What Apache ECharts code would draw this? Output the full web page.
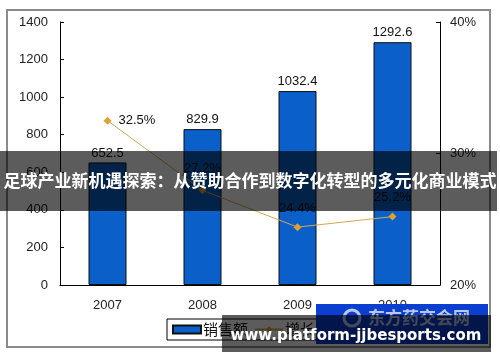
<!DOCTYPE html>
<html>
<head>
<meta charset="utf-8">
<script src="https://cdn.jsdelivr.net/npm/echarts@6/dist/echarts.min.js"></script>
<style>
html,body{margin:0;padding:0;background:#fff;}
#chart{width:500px;height:362px;}
</style>
</head>
<body>
<div id="chart"></div>
<script>
var categories = ['2007', '2008', '2009', '2010'];
var salesValues = [652.5, 829.9, 1032.4, 1292.6];
var growthValues = [32.5, 27.2, 24.4, 25.2];
var seriesNames = ['销售额', '增长率'];
var leftTicks = { min: 0, max: 1400, interval: 200 };
var rightTicks = { min: 20, max: 40, interval: 10 };
var titleText = '足球产业新机遇探索：从赞助合作到数字化转型的多元化商业模式';
var siteText = 'www.platform-jjbesports.com';
var logoText = '东方药交会网';

var growthLabelPos = ['right', 'top', 'top', 'top'];
var growthLabelDist = [7, 11, 8, 9];

var chart = echarts.init(document.getElementById('chart'));
var font = '"Liberation Sans", Arial, sans-serif';
var cjk = '"Noto Sans CJK SC", sans-serif';

var option = {
  animation: false,
  backgroundColor: '#ffffff',
  grid: { left: 60, right: 60, top: 22, bottom: 77 },
  legend: {
    left: 167, top: 319,
    data: [
      { name: seriesNames[0], icon: 'rect' },
      { name: seriesNames[1] }
    ],
    itemWidth: 28, itemHeight: 8, itemGap: 6,
    padding: [3, 6, 3, 5],
    borderColor: '#000', borderWidth: 1,
    textStyle: { fontFamily: cjk, fontSize: 15, color: '#111', padding: [0, 0, 0, -3] }
  },
  xAxis: {
    type: 'category',
    data: categories,
    axisLine: { lineStyle: { color: '#000', width: 1 } },
    axisTick: { inside: true, length: 4, lineStyle: { color: '#000' } },
    axisLabel: { margin: 14, fontFamily: font, fontSize: 13, color: '#222' },
    splitLine: { show: false }
  },
  yAxis: [
    {
      type: 'value', min: leftTicks.min, max: leftTicks.max, interval: leftTicks.interval,
      axisLine: { show: true, lineStyle: { color: '#000' } },
      axisTick: { show: true, inside: true, length: 4, lineStyle: { color: '#000' } },
      axisLabel: { margin: 12, fontFamily: font, fontSize: 13, color: '#222',
                   formatter: function (v) { return String(v); } },
      splitLine: { show: false }
    },
    {
      type: 'value', min: rightTicks.min, max: rightTicks.max, interval: rightTicks.interval,
      position: 'right',
      axisLine: { show: true, lineStyle: { color: '#000' } },
      axisTick: { show: true, inside: true, length: 4, lineStyle: { color: '#000' } },
      axisLabel: { margin: 10, fontFamily: font, fontSize: 13, color: '#222', formatter: '{value}%' },
      splitLine: { show: false }
    }
  ],
  series: [
    {
      name: seriesNames[0],
      type: 'bar',
      data: salesValues,
      barWidth: 38,
      itemStyle: { color: '#0a5fc8', borderColor: '#111', borderWidth: 1 },
      label: { show: true, position: 'top', distance: 3, fontFamily: font, fontSize: 13, color: '#111' }
    },
    {
      name: seriesNames[1],
      type: 'line',
      yAxisIndex: 1,
      data: growthValues.map(function (v, i) {
        return {
          value: v,
          label: { position: growthLabelPos[i], distance: growthLabelDist[i] }
        };
      }),
      symbol: 'diamond',
      symbolSize: 8,
      lineStyle: { color: '#d2aa50', width: 1 },
      itemStyle: { color: '#e0a030' },
      label: { show: true, fontFamily: font, fontSize: 13, color: '#111', formatter: '{c}%' }
    }
  ],
  graphic: [
    { type: 'rect', z: 100, shape: { x: 7, y: 10, width: 483, height: 337 },
      style: { fill: 'none', stroke: '#8a8a8a', lineWidth: 2 } },
    { type: 'rect', z: 100, shape: { x: 0, y: 151, width: 497, height: 60 },
      style: { fill: 'rgba(0,0,0,0.64)' } },
    { type: 'text', z: 101, x: 250, y: 181,
      style: { text: titleText, fill: '#fff', font: 'bold 17px "Noto Sans CJK SC", sans-serif',
               textAlign: 'center', textVerticalAlign: 'middle' } },
    { type: 'rect', z: 100, shape: { x: 316, y: 304, width: 172, height: 40 },
      style: { fill: '#0b3fcf' } },
    { type: 'circle', z: 100, shape: { cx: 352, cy: 318, r: 8 },
      style: { fill: 'none', stroke: 'rgba(230,235,255,0.8)', lineWidth: 3 } },
    { type: 'text', z: 100, x: 368, y: 318,
      style: { text: logoText, fill: 'rgba(220,225,240,0.85)', font: 'bold 17px "Noto Sans CJK SC", sans-serif',
               textAlign: 'left', textVerticalAlign: 'middle' } },
    { type: 'rect', z: 102, shape: { x: 222, y: 315, width: 269, height: 37 },
      style: { fill: 'rgba(0,0,0,0.64)' } },
    { type: 'text', z: 103, x: 356, y: 336,
      style: { text: siteText, fill: '#fff', font: 'bold 15px "DejaVu Sans", sans-serif',
               textAlign: 'center', textVerticalAlign: 'middle' } }
  ]
};
chart.setOption(option);
</script>
</body>
</html>
